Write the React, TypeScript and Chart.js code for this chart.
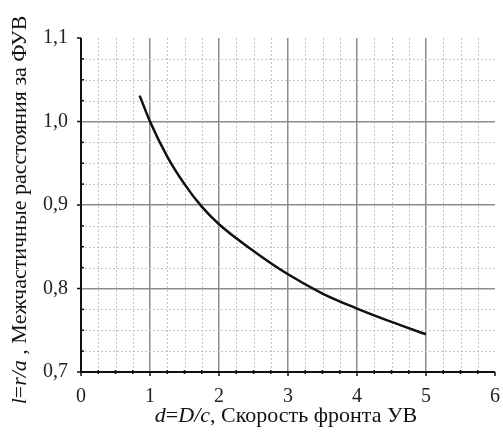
import React, { useEffect, useRef } from "react";
import { Chart, registerables } from "chart.js";

Chart.register(...registerables);

// Data
const dValues = [0.85, 1.0, 1.25, 1.5, 1.75, 2.0, 2.5, 3.0, 3.5, 4.0, 4.5, 5.0];
const lValues = [1.031, 1.0, 0.958, 0.925, 0.898, 0.877, 0.845, 0.817, 0.794, 0.776, 0.76, 0.745];

const xTicks = [0, 1, 2, 3, 4, 5, 6];
const yTicks = [0.7, 0.8, 0.9, 1.0, 1.1];
const xMinorStep = 0.25;
const yMinorStep = 0.025;

const xTitleParts: [string, boolean][] = [
  ["d", true],
  ["=", false],
  ["D/c", true],
  [", Скорость фронта УВ", false],
];
const yTitleParts: [string, boolean][] = [
  ["l", true],
  ["=", false],
  ["r/a", true],
  [" , Межчастичные расстояния за ФУВ", false],
];

const FONT = '"Liberation Serif", "DejaVu Serif", serif';

function drawParts(ctx: CanvasRenderingContext2D, parts: [string, boolean][], size: number) {
  let total = 0;
  const widths = parts.map(([t, it]) => {
    ctx.font = `${it ? "italic " : ""}${size}px ${FONT}`;
    const w = ctx.measureText(t).width;
    total += w;
    return w;
  });
  let x = -total / 2;
  parts.forEach(([t, it], i) => {
    ctx.font = `${it ? "italic " : ""}${size}px ${FONT}`;
    ctx.fillText(t, x, 0);
    x += widths[i];
  });
}

const decorPlugin = {
  id: "decor",
  beforeDatasetsDraw(chart: any) {
    const { ctx, chartArea, scales } = chart;
    const xs = scales.x;
    const ys = scales.y;
    ctx.save();
    // minor dotted grid
    ctx.strokeStyle = "#c4c4c4";
    ctx.lineWidth = 1;
    ctx.setLineDash([2, 2]);
    const xMin = xTicks[0];
    const xMax = xTicks[xTicks.length - 1];
    const nx = Math.round((xMax - xMin) / xMinorStep);
    for (let i = 1; i < nx; i++) {
      if (i % 4 === 0) continue;
      const v = xMin + i * xMinorStep;
      const px = Math.round(xs.getPixelForValue(v)) + 0.5;
      ctx.beginPath();
      ctx.moveTo(px, chartArea.top);
      ctx.lineTo(px, chartArea.bottom);
      ctx.stroke();
    }
    const yMin = yTicks[0];
    const yMax = yTicks[yTicks.length - 1];
    const ny = Math.round((yMax - yMin) / yMinorStep);
    for (let i = 1; i < ny; i++) {
      if (i % 4 === 0) continue;
      const v = yMin + i * yMinorStep;
      const py = Math.round(ys.getPixelForValue(v)) + 0.5;
      ctx.beginPath();
      ctx.moveTo(chartArea.left, py);
      ctx.lineTo(chartArea.right, py);
      ctx.stroke();
    }
    ctx.restore();
  },
  afterDraw(chart: any) {
    const { ctx, chartArea, scales } = chart;
    const xs = scales.x;
    const ys = scales.y;
    ctx.save();
    ctx.setLineDash([]);
    ctx.strokeStyle = "#111";
    // axes
    ctx.lineWidth = 2;
    ctx.beginPath();
    ctx.moveTo(chartArea.left, chartArea.top);
    ctx.lineTo(chartArea.left, chartArea.bottom);
    ctx.lineTo(chartArea.right, chartArea.bottom);
    ctx.stroke();
    // ticks
    const xMin = xTicks[0];
    const xMax = xTicks[xTicks.length - 1];
    const nx = Math.round((xMax - xMin) / xMinorStep);
    ctx.lineWidth = 1.5;
    for (let i = 0; i <= nx; i++) {
      const v = xMin + i * xMinorStep;
      const px = xs.getPixelForValue(v);
      ctx.beginPath();
      if (i % 4 === 0) {
        ctx.moveTo(px, chartArea.bottom);
        ctx.lineTo(px, chartArea.bottom + 4);
      } else {
        ctx.moveTo(px, chartArea.bottom - 2);
        ctx.lineTo(px, chartArea.bottom + 2);
      }
      ctx.stroke();
    }
    const yMin = yTicks[0];
    const yMax = yTicks[yTicks.length - 1];
    const ny = Math.round((yMax - yMin) / yMinorStep);
    for (let i = 0; i <= ny; i++) {
      const v = yMin + i * yMinorStep;
      const py = ys.getPixelForValue(v);
      ctx.beginPath();
      if (i % 4 === 0) {
        ctx.moveTo(chartArea.left - 4, py);
        ctx.lineTo(chartArea.left, py);
      } else {
        ctx.moveTo(chartArea.left, py);
        ctx.lineTo(chartArea.left + 3, py);
      }
      ctx.stroke();
    }
    // titles
    ctx.fillStyle = "#111";
    ctx.textBaseline = "alphabetic";
    ctx.textAlign = "left";
    ctx.save();
    ctx.translate((chartArea.left + chartArea.right) / 2 - 2, 422);
    drawParts(ctx, xTitleParts, 22);
    ctx.restore();
    ctx.save();
    ctx.translate(25.5, (chartArea.top + chartArea.bottom) / 2 + 5);
    ctx.rotate(-Math.PI / 2);
    drawParts(ctx, yTitleParts, 22);
    ctx.restore();
    ctx.restore();
  },
};

export default function App() {
  const ref = useRef<HTMLCanvasElement | null>(null);
  useEffect(() => {
    document.body.style.margin = "0";
    const canvas = ref.current;
    if (!canvas) return;
    const chart = new Chart(canvas, {
      type: "line",
      data: {
        datasets: [
          {
            data: dValues.map((d, i) => ({ x: d, y: lValues[i] })),
            borderColor: "#111",
            borderWidth: 2.5,
            pointRadius: 0,
            cubicInterpolationMode: "monotone",
            fill: false,
          },
        ],
      },
      options: {
        animation: false,
        responsive: false,
        maintainAspectRatio: false,
        layout: { padding: { top: 38, right: 8, left: 0, bottom: 0 } },
        plugins: {
          legend: { display: false },
          tooltip: { enabled: false },
          title: { display: false },
        },
        scales: {
          x: {
            type: "linear",
            min: xTicks[0],
            max: xTicks[xTicks.length - 1],
            afterBuildTicks: (s: any) => {
              s.ticks = xTicks.map((v) => ({ value: v }));
            },
            afterFit: (s: any) => {
              s.height = 65;
            },
            ticks: {
              font: { family: FONT, size: 20 },
              color: "#222",
              padding: 1,
              callback: (v: any) => String(v),
            },
            grid: {
              drawTicks: true,
              tickLength: 12,
              tickColor: "rgba(0,0,0,0)",
              color: (c: any) =>
                c.tick && (c.tick.value === xTicks[0] || c.tick.value === xTicks[xTicks.length - 1])
                  ? "rgba(0,0,0,0)"
                  : "#8c8c8c",
              lineWidth: 1.5,
            },
            border: { display: false },
          },
          y: {
            type: "linear",
            min: yTicks[0],
            max: yTicks[yTicks.length - 1],
            afterBuildTicks: (s: any) => {
              s.ticks = yTicks.map((v) => ({ value: v }));
            },
            afterFit: (s: any) => {
              s.width = 81;
            },
            ticks: {
              font: { family: FONT, size: 20 },
              color: "#222",
              padding: 13,
              callback: (v: any) => Number(v).toFixed(1).replace(".", ","),
            },
            grid: {
              drawTicks: false,
              color: (c: any) =>
                c.tick && (Math.abs(c.tick.value - yTicks[0]) < 1e-9 || Math.abs(c.tick.value - yTicks[yTicks.length - 1]) < 1e-9)
                  ? "rgba(0,0,0,0)"
                  : "#8c8c8c",
              lineWidth: 1.5,
            },
            border: { display: false },
          },
        },
      },
      plugins: [decorPlugin],
    } as any);
    return () => chart.destroy();
  }, []);
  return (
    <div style={{ width: 503, height: 437, background: "#fff" }}>
      <canvas ref={ref} width={503} height={437} style={{ display: "block" }} />
    </div>
  );
}
